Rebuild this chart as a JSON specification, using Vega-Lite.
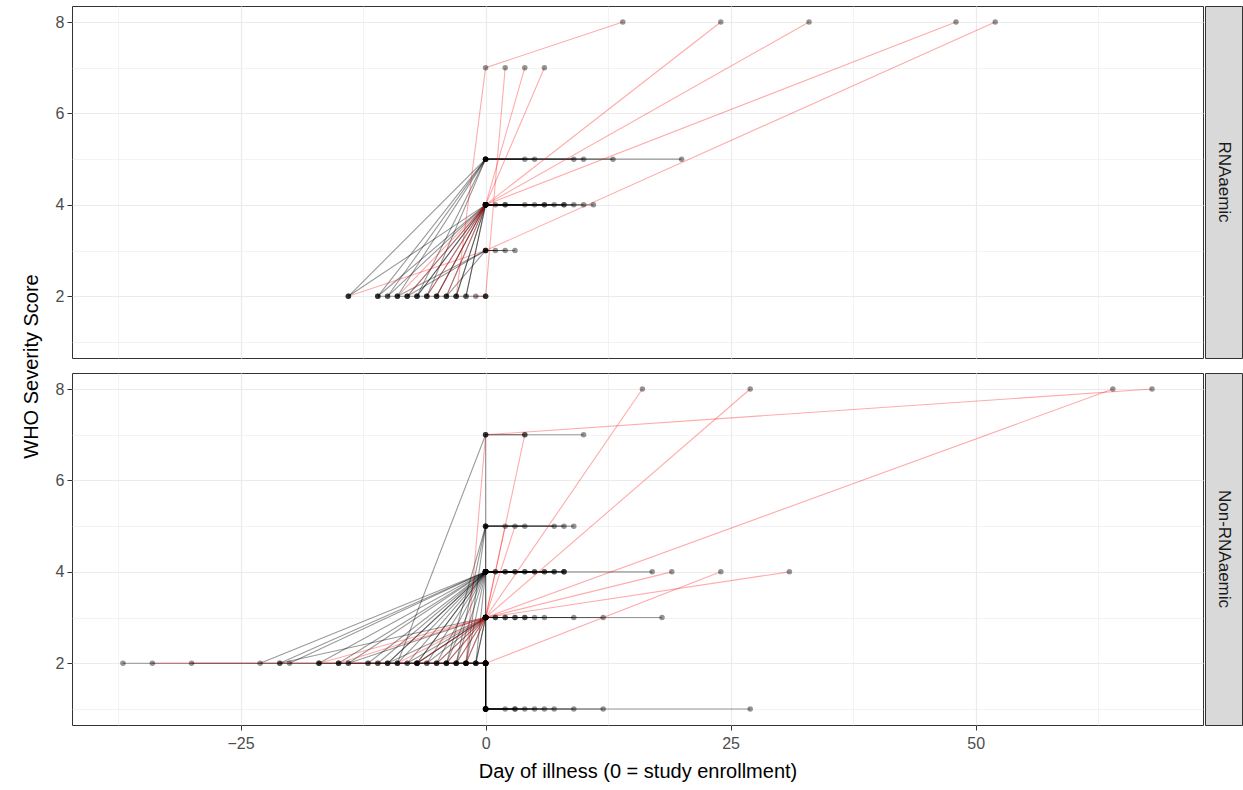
{
"$schema": "https://vega.github.io/schema/vega-lite/v6.json",
"padding": {"left": 20, "top": 5, "right": 0, "bottom": 5},
"background": "white",
"datasets": {
"pts": [
{"g":"RNAaemic","id":"T1","s":1,"d":-14,"y":2,"w":"no"},{"g":"RNAaemic","id":"T1","s":2,"d":0,"y":5,"w":"no"},{"g":"RNAaemic","id":"T1","s":3,"d":20,"y":5,"w":"no"},
{"g":"RNAaemic","id":"T2","s":1,"d":-11,"y":2,"w":"no"},{"g":"RNAaemic","id":"T2","s":2,"d":0,"y":5,"w":"no"},{"g":"RNAaemic","id":"T2","s":3,"d":13,"y":5,"w":"no"},
{"g":"RNAaemic","id":"T3","s":1,"d":-10,"y":2,"w":"no"},{"g":"RNAaemic","id":"T3","s":2,"d":0,"y":5,"w":"no"},{"g":"RNAaemic","id":"T3","s":3,"d":10,"y":5,"w":"no"},
{"g":"RNAaemic","id":"T4","s":1,"d":-9,"y":2,"w":"no"},{"g":"RNAaemic","id":"T4","s":2,"d":0,"y":5,"w":"no"},{"g":"RNAaemic","id":"T4","s":3,"d":9,"y":5,"w":"no"},
{"g":"RNAaemic","id":"T5","s":1,"d":-7,"y":2,"w":"no"},{"g":"RNAaemic","id":"T5","s":2,"d":0,"y":5,"w":"no"},{"g":"RNAaemic","id":"T5","s":3,"d":5,"y":5,"w":"no"},
{"g":"RNAaemic","id":"T6","s":1,"d":-6,"y":2,"w":"no"},{"g":"RNAaemic","id":"T6","s":2,"d":0,"y":5,"w":"no"},{"g":"RNAaemic","id":"T6","s":3,"d":4,"y":5,"w":"no"},
{"g":"RNAaemic","id":"T7","s":1,"d":-8,"y":2,"w":"no"},{"g":"RNAaemic","id":"T7","s":2,"d":0,"y":4,"w":"no"},{"g":"RNAaemic","id":"T7","s":3,"d":11,"y":4,"w":"no"},
{"g":"RNAaemic","id":"T8","s":1,"d":-7,"y":2,"w":"no"},{"g":"RNAaemic","id":"T8","s":2,"d":0,"y":4,"w":"no"},{"g":"RNAaemic","id":"T8","s":3,"d":10,"y":4,"w":"no"},
{"g":"RNAaemic","id":"T9","s":1,"d":-5,"y":2,"w":"no"},{"g":"RNAaemic","id":"T9","s":2,"d":0,"y":4,"w":"no"},{"g":"RNAaemic","id":"T9","s":3,"d":9,"y":4,"w":"no"},
{"g":"RNAaemic","id":"T10","s":1,"d":-4,"y":2,"w":"no"},{"g":"RNAaemic","id":"T10","s":2,"d":0,"y":4,"w":"no"},{"g":"RNAaemic","id":"T10","s":3,"d":8,"y":4,"w":"no"},
{"g":"RNAaemic","id":"T11","s":1,"d":-3,"y":2,"w":"no"},{"g":"RNAaemic","id":"T11","s":2,"d":0,"y":4,"w":"no"},{"g":"RNAaemic","id":"T11","s":3,"d":8,"y":4,"w":"no"},
{"g":"RNAaemic","id":"T12","s":1,"d":-2,"y":2,"w":"no"},{"g":"RNAaemic","id":"T12","s":2,"d":0,"y":4,"w":"no"},{"g":"RNAaemic","id":"T12","s":3,"d":7,"y":4,"w":"no"},
{"g":"RNAaemic","id":"T13","s":1,"d":-7,"y":2,"w":"no"},{"g":"RNAaemic","id":"T13","s":2,"d":0,"y":4,"w":"no"},{"g":"RNAaemic","id":"T13","s":3,"d":6,"y":4,"w":"no"},
{"g":"RNAaemic","id":"T14","s":1,"d":-6,"y":2,"w":"no"},{"g":"RNAaemic","id":"T14","s":2,"d":0,"y":4,"w":"no"},{"g":"RNAaemic","id":"T14","s":3,"d":6,"y":4,"w":"no"},
{"g":"RNAaemic","id":"T15","s":1,"d":-5,"y":2,"w":"no"},{"g":"RNAaemic","id":"T15","s":2,"d":0,"y":4,"w":"no"},{"g":"RNAaemic","id":"T15","s":3,"d":5,"y":4,"w":"no"},
{"g":"RNAaemic","id":"T16","s":1,"d":-3,"y":2,"w":"no"},{"g":"RNAaemic","id":"T16","s":2,"d":0,"y":4,"w":"no"},{"g":"RNAaemic","id":"T16","s":3,"d":4,"y":4,"w":"no"},
{"g":"RNAaemic","id":"T17","s":1,"d":-2,"y":2,"w":"no"},{"g":"RNAaemic","id":"T17","s":2,"d":0,"y":4,"w":"no"},{"g":"RNAaemic","id":"T17","s":3,"d":2,"y":4,"w":"no"},
{"g":"RNAaemic","id":"T18","s":1,"d":-11,"y":2,"w":"no"},{"g":"RNAaemic","id":"T18","s":2,"d":0,"y":4,"w":"no"},{"g":"RNAaemic","id":"T18","s":3,"d":2,"y":4,"w":"no"},
{"g":"RNAaemic","id":"T19","s":1,"d":-10,"y":2,"w":"no"},{"g":"RNAaemic","id":"T19","s":2,"d":0,"y":4,"w":"no"},{"g":"RNAaemic","id":"T19","s":3,"d":1,"y":4,"w":"no"},
{"g":"RNAaemic","id":"T20","s":1,"d":-14,"y":2,"w":"no"},{"g":"RNAaemic","id":"T20","s":2,"d":0,"y":4,"w":"no"},{"g":"RNAaemic","id":"T20","s":3,"d":0,"y":4,"w":"no"},
{"g":"RNAaemic","id":"T21","s":1,"d":-9,"y":2,"w":"no"},{"g":"RNAaemic","id":"T21","s":2,"d":0,"y":3,"w":"no"},{"g":"RNAaemic","id":"T21","s":3,"d":3,"y":3,"w":"no"},
{"g":"RNAaemic","id":"T22","s":1,"d":-8,"y":2,"w":"no"},{"g":"RNAaemic","id":"T22","s":2,"d":0,"y":3,"w":"no"},{"g":"RNAaemic","id":"T22","s":3,"d":2,"y":3,"w":"no"},
{"g":"RNAaemic","id":"T23","s":1,"d":-4,"y":2,"w":"no"},{"g":"RNAaemic","id":"T23","s":2,"d":0,"y":3,"w":"no"},{"g":"RNAaemic","id":"T23","s":3,"d":1,"y":3,"w":"no"},
{"g":"RNAaemic","id":"T24","s":1,"d":-11,"y":2,"w":"no"},{"g":"RNAaemic","id":"T24","s":2,"d":0,"y":2,"w":"no"},{"g":"RNAaemic","id":"T24","s":3,"d":0,"y":2,"w":"no"},
{"g":"RNAaemic","id":"TR1","s":1,"d":-3,"y":2,"w":"yes"},{"g":"RNAaemic","id":"TR1","s":2,"d":0,"y":7,"w":"yes"},{"g":"RNAaemic","id":"TR1","s":3,"d":14,"y":8,"w":"yes"},
{"g":"RNAaemic","id":"TR2","s":1,"d":-6,"y":2,"w":"yes"},{"g":"RNAaemic","id":"TR2","s":2,"d":0,"y":4,"w":"yes"},{"g":"RNAaemic","id":"TR2","s":3,"d":24,"y":8,"w":"yes"},
{"g":"RNAaemic","id":"TR3","s":1,"d":-8,"y":2,"w":"yes"},{"g":"RNAaemic","id":"TR3","s":2,"d":0,"y":4,"w":"yes"},{"g":"RNAaemic","id":"TR3","s":3,"d":33,"y":8,"w":"yes"},
{"g":"RNAaemic","id":"TR4","s":1,"d":-5,"y":2,"w":"yes"},{"g":"RNAaemic","id":"TR4","s":2,"d":0,"y":4,"w":"yes"},{"g":"RNAaemic","id":"TR4","s":3,"d":48,"y":8,"w":"yes"},
{"g":"RNAaemic","id":"TR5","s":1,"d":-14,"y":2,"w":"yes"},{"g":"RNAaemic","id":"TR5","s":2,"d":0,"y":3,"w":"yes"},{"g":"RNAaemic","id":"TR5","s":3,"d":52,"y":8,"w":"yes"},
{"g":"RNAaemic","id":"TR6","s":1,"d":-1,"y":2,"w":"yes"},{"g":"RNAaemic","id":"TR6","s":2,"d":0,"y":2,"w":"yes"},{"g":"RNAaemic","id":"TR6","s":3,"d":2,"y":7,"w":"yes"},
{"g":"RNAaemic","id":"TR7","s":1,"d":-4,"y":2,"w":"yes"},{"g":"RNAaemic","id":"TR7","s":2,"d":0,"y":4,"w":"yes"},{"g":"RNAaemic","id":"TR7","s":3,"d":4,"y":7,"w":"yes"},
{"g":"RNAaemic","id":"TR8","s":1,"d":-9,"y":2,"w":"yes"},{"g":"RNAaemic","id":"TR8","s":2,"d":0,"y":4,"w":"yes"},{"g":"RNAaemic","id":"TR8","s":3,"d":6,"y":7,"w":"yes"},
{"g":"Non-RNAaemic","id":"B1","s":1,"d":-9,"y":2,"w":"no"},{"g":"Non-RNAaemic","id":"B1","s":2,"d":0,"y":7,"w":"no"},{"g":"Non-RNAaemic","id":"B1","s":3,"d":10,"y":7,"w":"no"},
{"g":"Non-RNAaemic","id":"B2","s":1,"d":0,"y":2,"w":"no"},{"g":"Non-RNAaemic","id":"B2","s":2,"d":0,"y":7,"w":"no"},{"g":"Non-RNAaemic","id":"B2","s":3,"d":4,"y":7,"w":"no"},
{"g":"Non-RNAaemic","id":"B3","s":1,"d":-4,"y":2,"w":"no"},{"g":"Non-RNAaemic","id":"B3","s":2,"d":0,"y":5,"w":"no"},{"g":"Non-RNAaemic","id":"B3","s":3,"d":9,"y":5,"w":"no"},
{"g":"Non-RNAaemic","id":"B4","s":1,"d":-3,"y":2,"w":"no"},{"g":"Non-RNAaemic","id":"B4","s":2,"d":0,"y":5,"w":"no"},{"g":"Non-RNAaemic","id":"B4","s":3,"d":8,"y":5,"w":"no"},
{"g":"Non-RNAaemic","id":"B5","s":1,"d":0,"y":2,"w":"no"},{"g":"Non-RNAaemic","id":"B5","s":2,"d":0,"y":5,"w":"no"},{"g":"Non-RNAaemic","id":"B5","s":3,"d":7,"y":5,"w":"no"},
{"g":"Non-RNAaemic","id":"B6","s":1,"d":-2,"y":2,"w":"no"},{"g":"Non-RNAaemic","id":"B6","s":2,"d":0,"y":5,"w":"no"},{"g":"Non-RNAaemic","id":"B6","s":3,"d":4,"y":5,"w":"no"},
{"g":"Non-RNAaemic","id":"B7","s":1,"d":-21,"y":2,"w":"no"},{"g":"Non-RNAaemic","id":"B7","s":2,"d":0,"y":4,"w":"no"},{"g":"Non-RNAaemic","id":"B7","s":3,"d":17,"y":4,"w":"no"},
{"g":"Non-RNAaemic","id":"B8","s":1,"d":-20,"y":2,"w":"no"},{"g":"Non-RNAaemic","id":"B8","s":2,"d":0,"y":4,"w":"no"},{"g":"Non-RNAaemic","id":"B8","s":3,"d":8,"y":4,"w":"no"},
{"g":"Non-RNAaemic","id":"B9","s":1,"d":-23,"y":2,"w":"no"},{"g":"Non-RNAaemic","id":"B9","s":2,"d":0,"y":4,"w":"no"},{"g":"Non-RNAaemic","id":"B9","s":3,"d":8,"y":4,"w":"no"},
{"g":"Non-RNAaemic","id":"B10","s":1,"d":-17,"y":2,"w":"no"},{"g":"Non-RNAaemic","id":"B10","s":2,"d":0,"y":4,"w":"no"},{"g":"Non-RNAaemic","id":"B10","s":3,"d":7,"y":4,"w":"no"},
{"g":"Non-RNAaemic","id":"B11","s":1,"d":-15,"y":2,"w":"no"},{"g":"Non-RNAaemic","id":"B11","s":2,"d":0,"y":4,"w":"no"},{"g":"Non-RNAaemic","id":"B11","s":3,"d":7,"y":4,"w":"no"},
{"g":"Non-RNAaemic","id":"B12","s":1,"d":-14,"y":2,"w":"no"},{"g":"Non-RNAaemic","id":"B12","s":2,"d":0,"y":4,"w":"no"},{"g":"Non-RNAaemic","id":"B12","s":3,"d":6,"y":4,"w":"no"},
{"g":"Non-RNAaemic","id":"B13","s":1,"d":-12,"y":2,"w":"no"},{"g":"Non-RNAaemic","id":"B13","s":2,"d":0,"y":4,"w":"no"},{"g":"Non-RNAaemic","id":"B13","s":3,"d":6,"y":4,"w":"no"},
{"g":"Non-RNAaemic","id":"B14","s":1,"d":-11,"y":2,"w":"no"},{"g":"Non-RNAaemic","id":"B14","s":2,"d":0,"y":4,"w":"no"},{"g":"Non-RNAaemic","id":"B14","s":3,"d":5,"y":4,"w":"no"},
{"g":"Non-RNAaemic","id":"B15","s":1,"d":-10,"y":2,"w":"no"},{"g":"Non-RNAaemic","id":"B15","s":2,"d":0,"y":4,"w":"no"},{"g":"Non-RNAaemic","id":"B15","s":3,"d":5,"y":4,"w":"no"},
{"g":"Non-RNAaemic","id":"B16","s":1,"d":-10,"y":2,"w":"no"},{"g":"Non-RNAaemic","id":"B16","s":2,"d":0,"y":4,"w":"no"},{"g":"Non-RNAaemic","id":"B16","s":3,"d":4,"y":4,"w":"no"},
{"g":"Non-RNAaemic","id":"B17","s":1,"d":-9,"y":2,"w":"no"},{"g":"Non-RNAaemic","id":"B17","s":2,"d":0,"y":4,"w":"no"},{"g":"Non-RNAaemic","id":"B17","s":3,"d":4,"y":4,"w":"no"},
{"g":"Non-RNAaemic","id":"B18","s":1,"d":-8,"y":2,"w":"no"},{"g":"Non-RNAaemic","id":"B18","s":2,"d":0,"y":4,"w":"no"},{"g":"Non-RNAaemic","id":"B18","s":3,"d":3,"y":4,"w":"no"},
{"g":"Non-RNAaemic","id":"B19","s":1,"d":-7,"y":2,"w":"no"},{"g":"Non-RNAaemic","id":"B19","s":2,"d":0,"y":4,"w":"no"},{"g":"Non-RNAaemic","id":"B19","s":3,"d":3,"y":4,"w":"no"},
{"g":"Non-RNAaemic","id":"B20","s":1,"d":-7,"y":2,"w":"no"},{"g":"Non-RNAaemic","id":"B20","s":2,"d":0,"y":4,"w":"no"},{"g":"Non-RNAaemic","id":"B20","s":3,"d":2,"y":4,"w":"no"},
{"g":"Non-RNAaemic","id":"B21","s":1,"d":-6,"y":2,"w":"no"},{"g":"Non-RNAaemic","id":"B21","s":2,"d":0,"y":4,"w":"no"},{"g":"Non-RNAaemic","id":"B21","s":3,"d":2,"y":4,"w":"no"},
{"g":"Non-RNAaemic","id":"B22","s":1,"d":-5,"y":2,"w":"no"},{"g":"Non-RNAaemic","id":"B22","s":2,"d":0,"y":4,"w":"no"},{"g":"Non-RNAaemic","id":"B22","s":3,"d":1,"y":4,"w":"no"},
{"g":"Non-RNAaemic","id":"B23","s":1,"d":-4,"y":2,"w":"no"},{"g":"Non-RNAaemic","id":"B23","s":2,"d":0,"y":4,"w":"no"},{"g":"Non-RNAaemic","id":"B23","s":3,"d":1,"y":4,"w":"no"},
{"g":"Non-RNAaemic","id":"B24","s":1,"d":-3,"y":2,"w":"no"},{"g":"Non-RNAaemic","id":"B24","s":2,"d":0,"y":4,"w":"no"},{"g":"Non-RNAaemic","id":"B24","s":3,"d":0,"y":4,"w":"no"},
{"g":"Non-RNAaemic","id":"B25","s":1,"d":-2,"y":2,"w":"no"},{"g":"Non-RNAaemic","id":"B25","s":2,"d":0,"y":4,"w":"no"},{"g":"Non-RNAaemic","id":"B25","s":3,"d":0,"y":4,"w":"no"},
{"g":"Non-RNAaemic","id":"B26","s":1,"d":-1,"y":2,"w":"no"},{"g":"Non-RNAaemic","id":"B26","s":2,"d":0,"y":4,"w":"no"},{"g":"Non-RNAaemic","id":"B26","s":3,"d":8,"y":4,"w":"no"},
{"g":"Non-RNAaemic","id":"B27","s":1,"d":-21,"y":2,"w":"no"},{"g":"Non-RNAaemic","id":"B27","s":2,"d":0,"y":3,"w":"no"},{"g":"Non-RNAaemic","id":"B27","s":3,"d":18,"y":3,"w":"no"},
{"g":"Non-RNAaemic","id":"B28","s":1,"d":-14,"y":2,"w":"no"},{"g":"Non-RNAaemic","id":"B28","s":2,"d":0,"y":3,"w":"no"},{"g":"Non-RNAaemic","id":"B28","s":3,"d":12,"y":3,"w":"no"},
{"g":"Non-RNAaemic","id":"B29","s":1,"d":-10,"y":2,"w":"no"},{"g":"Non-RNAaemic","id":"B29","s":2,"d":0,"y":3,"w":"no"},{"g":"Non-RNAaemic","id":"B29","s":3,"d":9,"y":3,"w":"no"},
{"g":"Non-RNAaemic","id":"B30","s":1,"d":-8,"y":2,"w":"no"},{"g":"Non-RNAaemic","id":"B30","s":2,"d":0,"y":3,"w":"no"},{"g":"Non-RNAaemic","id":"B30","s":3,"d":6,"y":3,"w":"no"},
{"g":"Non-RNAaemic","id":"B31","s":1,"d":-7,"y":2,"w":"no"},{"g":"Non-RNAaemic","id":"B31","s":2,"d":0,"y":3,"w":"no"},{"g":"Non-RNAaemic","id":"B31","s":3,"d":5,"y":3,"w":"no"},
{"g":"Non-RNAaemic","id":"B32","s":1,"d":-6,"y":2,"w":"no"},{"g":"Non-RNAaemic","id":"B32","s":2,"d":0,"y":3,"w":"no"},{"g":"Non-RNAaemic","id":"B32","s":3,"d":4,"y":3,"w":"no"},
{"g":"Non-RNAaemic","id":"B33","s":1,"d":-5,"y":2,"w":"no"},{"g":"Non-RNAaemic","id":"B33","s":2,"d":0,"y":3,"w":"no"},{"g":"Non-RNAaemic","id":"B33","s":3,"d":4,"y":3,"w":"no"},
{"g":"Non-RNAaemic","id":"B34","s":1,"d":-4,"y":2,"w":"no"},{"g":"Non-RNAaemic","id":"B34","s":2,"d":0,"y":3,"w":"no"},{"g":"Non-RNAaemic","id":"B34","s":3,"d":3,"y":3,"w":"no"},
{"g":"Non-RNAaemic","id":"B35","s":1,"d":-3,"y":2,"w":"no"},{"g":"Non-RNAaemic","id":"B35","s":2,"d":0,"y":3,"w":"no"},{"g":"Non-RNAaemic","id":"B35","s":3,"d":3,"y":3,"w":"no"},
{"g":"Non-RNAaemic","id":"B36","s":1,"d":-2,"y":2,"w":"no"},{"g":"Non-RNAaemic","id":"B36","s":2,"d":0,"y":3,"w":"no"},{"g":"Non-RNAaemic","id":"B36","s":3,"d":2,"y":3,"w":"no"},
{"g":"Non-RNAaemic","id":"B37","s":1,"d":-1,"y":2,"w":"no"},{"g":"Non-RNAaemic","id":"B37","s":2,"d":0,"y":3,"w":"no"},{"g":"Non-RNAaemic","id":"B37","s":3,"d":2,"y":3,"w":"no"},
{"g":"Non-RNAaemic","id":"B38","s":1,"d":-7,"y":2,"w":"no"},{"g":"Non-RNAaemic","id":"B38","s":2,"d":0,"y":3,"w":"no"},{"g":"Non-RNAaemic","id":"B38","s":3,"d":1,"y":3,"w":"no"},
{"g":"Non-RNAaemic","id":"B39","s":1,"d":-1,"y":2,"w":"no"},{"g":"Non-RNAaemic","id":"B39","s":2,"d":0,"y":3,"w":"no"},{"g":"Non-RNAaemic","id":"B39","s":3,"d":1,"y":3,"w":"no"},
{"g":"Non-RNAaemic","id":"B40","s":1,"d":0,"y":2,"w":"no"},{"g":"Non-RNAaemic","id":"B40","s":2,"d":0,"y":3,"w":"no"},{"g":"Non-RNAaemic","id":"B40","s":3,"d":0,"y":3,"w":"no"},
{"g":"Non-RNAaemic","id":"B41","s":1,"d":-37,"y":2,"w":"no"},{"g":"Non-RNAaemic","id":"B41","s":2,"d":0,"y":2,"w":"no"},{"g":"Non-RNAaemic","id":"B41","s":3,"d":0,"y":1,"w":"no"},{"g":"Non-RNAaemic","id":"B41","s":4,"d":27,"y":1,"w":"no"},
{"g":"Non-RNAaemic","id":"B42","s":1,"d":-30,"y":2,"w":"no"},{"g":"Non-RNAaemic","id":"B42","s":2,"d":0,"y":2,"w":"no"},{"g":"Non-RNAaemic","id":"B42","s":3,"d":0,"y":1,"w":"no"},{"g":"Non-RNAaemic","id":"B42","s":4,"d":12,"y":1,"w":"no"},
{"g":"Non-RNAaemic","id":"B43","s":1,"d":-17,"y":2,"w":"no"},{"g":"Non-RNAaemic","id":"B43","s":2,"d":0,"y":2,"w":"no"},{"g":"Non-RNAaemic","id":"B43","s":3,"d":0,"y":1,"w":"no"},{"g":"Non-RNAaemic","id":"B43","s":4,"d":9,"y":1,"w":"no"},
{"g":"Non-RNAaemic","id":"B44","s":1,"d":-12,"y":2,"w":"no"},{"g":"Non-RNAaemic","id":"B44","s":2,"d":0,"y":2,"w":"no"},{"g":"Non-RNAaemic","id":"B44","s":3,"d":0,"y":1,"w":"no"},{"g":"Non-RNAaemic","id":"B44","s":4,"d":7,"y":1,"w":"no"},
{"g":"Non-RNAaemic","id":"B45","s":1,"d":-15,"y":2,"w":"no"},{"g":"Non-RNAaemic","id":"B45","s":2,"d":0,"y":2,"w":"no"},{"g":"Non-RNAaemic","id":"B45","s":3,"d":0,"y":1,"w":"no"},{"g":"Non-RNAaemic","id":"B45","s":4,"d":6,"y":1,"w":"no"},
{"g":"Non-RNAaemic","id":"B46","s":1,"d":-11,"y":2,"w":"no"},{"g":"Non-RNAaemic","id":"B46","s":2,"d":0,"y":2,"w":"no"},{"g":"Non-RNAaemic","id":"B46","s":3,"d":0,"y":1,"w":"no"},{"g":"Non-RNAaemic","id":"B46","s":4,"d":5,"y":1,"w":"no"},
{"g":"Non-RNAaemic","id":"B47","s":1,"d":0,"y":2,"w":"no"},{"g":"Non-RNAaemic","id":"B47","s":2,"d":0,"y":2,"w":"no"},{"g":"Non-RNAaemic","id":"B47","s":3,"d":0,"y":1,"w":"no"},{"g":"Non-RNAaemic","id":"B47","s":4,"d":4,"y":1,"w":"no"},
{"g":"Non-RNAaemic","id":"B48","s":1,"d":-1,"y":2,"w":"no"},{"g":"Non-RNAaemic","id":"B48","s":2,"d":0,"y":2,"w":"no"},{"g":"Non-RNAaemic","id":"B48","s":3,"d":0,"y":1,"w":"no"},{"g":"Non-RNAaemic","id":"B48","s":4,"d":3,"y":1,"w":"no"},
{"g":"Non-RNAaemic","id":"B49","s":1,"d":0,"y":2,"w":"no"},{"g":"Non-RNAaemic","id":"B49","s":2,"d":0,"y":2,"w":"no"},{"g":"Non-RNAaemic","id":"B49","s":3,"d":0,"y":1,"w":"no"},{"g":"Non-RNAaemic","id":"B49","s":4,"d":3,"y":1,"w":"no"},
{"g":"Non-RNAaemic","id":"B50","s":1,"d":-2,"y":2,"w":"no"},{"g":"Non-RNAaemic","id":"B50","s":2,"d":0,"y":2,"w":"no"},{"g":"Non-RNAaemic","id":"B50","s":3,"d":0,"y":1,"w":"no"},{"g":"Non-RNAaemic","id":"B50","s":4,"d":2,"y":1,"w":"no"},
{"g":"Non-RNAaemic","id":"B51","s":1,"d":0,"y":2,"w":"no"},{"g":"Non-RNAaemic","id":"B51","s":2,"d":0,"y":2,"w":"no"},{"g":"Non-RNAaemic","id":"B51","s":3,"d":0,"y":1,"w":"no"},{"g":"Non-RNAaemic","id":"B51","s":4,"d":0,"y":1,"w":"no"},
{"g":"Non-RNAaemic","id":"BR1","s":1,"d":-2,"y":2,"w":"yes"},{"g":"Non-RNAaemic","id":"BR1","s":2,"d":0,"y":7,"w":"yes"},{"g":"Non-RNAaemic","id":"BR1","s":3,"d":68,"y":8,"w":"yes"},
{"g":"Non-RNAaemic","id":"BR2","s":1,"d":-17,"y":2,"w":"yes"},{"g":"Non-RNAaemic","id":"BR2","s":2,"d":0,"y":3,"w":"yes"},{"g":"Non-RNAaemic","id":"BR2","s":3,"d":64,"y":8,"w":"yes"},
{"g":"Non-RNAaemic","id":"BR3","s":1,"d":-15,"y":2,"w":"yes"},{"g":"Non-RNAaemic","id":"BR3","s":2,"d":0,"y":3,"w":"yes"},{"g":"Non-RNAaemic","id":"BR3","s":3,"d":16,"y":8,"w":"yes"},
{"g":"Non-RNAaemic","id":"BR4","s":1,"d":-5,"y":2,"w":"yes"},{"g":"Non-RNAaemic","id":"BR4","s":2,"d":0,"y":3,"w":"yes"},{"g":"Non-RNAaemic","id":"BR4","s":3,"d":27,"y":8,"w":"yes"},
{"g":"Non-RNAaemic","id":"BR5","s":1,"d":-7,"y":2,"w":"yes"},{"g":"Non-RNAaemic","id":"BR5","s":2,"d":0,"y":3,"w":"yes"},{"g":"Non-RNAaemic","id":"BR5","s":3,"d":4,"y":7,"w":"yes"},
{"g":"Non-RNAaemic","id":"BR6","s":1,"d":-9,"y":2,"w":"yes"},{"g":"Non-RNAaemic","id":"BR6","s":2,"d":0,"y":3,"w":"yes"},{"g":"Non-RNAaemic","id":"BR6","s":3,"d":2,"y":5,"w":"yes"},
{"g":"Non-RNAaemic","id":"BR7","s":1,"d":-4,"y":2,"w":"yes"},{"g":"Non-RNAaemic","id":"BR7","s":2,"d":0,"y":3,"w":"yes"},{"g":"Non-RNAaemic","id":"BR7","s":3,"d":3,"y":5,"w":"yes"},
{"g":"Non-RNAaemic","id":"BR8","s":1,"d":-3,"y":2,"w":"yes"},{"g":"Non-RNAaemic","id":"BR8","s":2,"d":0,"y":3,"w":"yes"},{"g":"Non-RNAaemic","id":"BR8","s":3,"d":19,"y":4,"w":"yes"},
{"g":"Non-RNAaemic","id":"BR9","s":1,"d":-34,"y":2,"w":"yes"},{"g":"Non-RNAaemic","id":"BR9","s":2,"d":0,"y":2,"w":"yes"},{"g":"Non-RNAaemic","id":"BR9","s":3,"d":24,"y":4,"w":"yes"},
{"g":"Non-RNAaemic","id":"BR10","s":1,"d":-2,"y":2,"w":"yes"},{"g":"Non-RNAaemic","id":"BR10","s":2,"d":0,"y":3,"w":"yes"},{"g":"Non-RNAaemic","id":"BR10","s":3,"d":31,"y":4,"w":"yes"}
]
},
"bounds": "flush",
"columns": 2,
"spacing": {"row": 15, "column": 2},
"concat": [
  {
   "width": 1131, "height": 352,
   "data": {"name": "pts"},
   "transform": [{"filter": "datum.g === 'RNAaemic'"}],
   "encoding": {
    "x": {"field": "d", "type": "quantitative", "scale": {"domain": [-42.2, 73.2], "nice": false, "zero": false},
          "axis": {"values": [-37.5, -25, -12.5, 0, 12.5, 25, 37.5, 50, 62.5], "labels": false, "ticks": false, "title": null,
                   "gridWidth": {"condition": {"test": "datum.value % 25 == 0", "value": 1.2}, "value": 0.6}}},
    "y": {"field": "y", "type": "quantitative", "scale": {"domain": [0.65, 8.35], "nice": false, "zero": false},
          "axis": {"values": [1, 2, 3, 4, 5, 6, 7, 8], "labelExpr": "datum.value % 2 == 0 ? datum.label : ''",
                   "tickOpacity": {"condition": {"test": "datum.value % 2 == 0", "value": 1}, "value": 0},
                   "gridWidth": {"condition": {"test": "datum.value % 2 == 0", "value": 1.2}, "value": 0.6},
                   "title": "WHO Severity Score", "titleY": 360, "titlePadding": 14}}
   },
   "layer": [
    {"transform": [{"filter": "datum.w === 'no'"}], "mark": {"type": "line", "color": "#000000", "opacity": 0.4, "strokeWidth": 1.1},
     "encoding": {"detail": {"field": "id"}, "order": {"field": "s"}}},
    {"transform": [{"filter": "datum.w === 'yes'"}], "mark": {"type": "line", "color": "#ff0000", "opacity": 0.33, "strokeWidth": 1.1},
     "encoding": {"detail": {"field": "id"}, "order": {"field": "s"}}},
    {"mark": {"type": "point", "filled": true, "size": 30, "color": "#000000", "opacity": 0.42, "strokeWidth": 0}}
   ]
  },
  {
   "width": 37, "height": 352,
   "view": {"fill": "#d9d9d9", "stroke": "#333333"},
   "data": {"values": [{"g": "RNAaemic"}]},
   "mark": {"type": "text", "angle": 90, "fontSize": 17, "color": "#1a1a1a", "font": "Liberation Sans"},
   "encoding": {"text": {"field": "g"}}
  },
  {
   "width": 1131, "height": 352,
   "data": {"name": "pts"},
   "transform": [{"filter": "datum.g === 'Non-RNAaemic'"}],
   "encoding": {
    "x": {"field": "d", "type": "quantitative", "scale": {"domain": [-42.2, 73.2], "nice": false, "zero": false},
          "axis": {"values": [-37.5, -25, -12.5, 0, 12.5, 25, 37.5, 50, 62.5], "labelExpr": "datum.value % 25 == 0 ? datum.label : ''",
                   "tickOpacity": {"condition": {"test": "datum.value % 25 == 0", "value": 1}, "value": 0},
                   "gridWidth": {"condition": {"test": "datum.value % 25 == 0", "value": 1.2}, "value": 0.6},
                   "labelPadding": 5,
                   "title": "Day of illness (0 = study enrollment)", "titlePadding": 10}},
    "y": {"field": "y", "type": "quantitative", "scale": {"domain": [0.65, 8.35], "nice": false, "zero": false},
          "axis": {"values": [1, 2, 3, 4, 5, 6, 7, 8], "labelExpr": "datum.value % 2 == 0 ? datum.label : ''",
                   "tickOpacity": {"condition": {"test": "datum.value % 2 == 0", "value": 1}, "value": 0},
                   "gridWidth": {"condition": {"test": "datum.value % 2 == 0", "value": 1.2}, "value": 0.6},
                   "title": null}}
   },
   "layer": [
    {"transform": [{"filter": "datum.w === 'no'"}], "mark": {"type": "line", "color": "#000000", "opacity": 0.4, "strokeWidth": 1.1},
     "encoding": {"detail": {"field": "id"}, "order": {"field": "s"}}},
    {"transform": [{"filter": "datum.w === 'yes'"}], "mark": {"type": "line", "color": "#ff0000", "opacity": 0.33, "strokeWidth": 1.1},
     "encoding": {"detail": {"field": "id"}, "order": {"field": "s"}}},
    {"mark": {"type": "point", "filled": true, "size": 30, "color": "#000000", "opacity": 0.42, "strokeWidth": 0}}
   ]
  },
  {
   "width": 37, "height": 352,
   "view": {"fill": "#d9d9d9", "stroke": "#333333"},
   "data": {"values": [{"g": "Non-RNAaemic"}]},
   "mark": {"type": "text", "angle": 90, "fontSize": 17, "color": "#1a1a1a", "font": "Liberation Sans"},
   "encoding": {"text": {"field": "g"}}
  }
],
"config": {
 "font": "Liberation Sans",
 "view": {"stroke": "#333333", "strokeWidth": 1},
 "axis": {"labelFont": "Liberation Sans", "labelFontSize": 16, "labelColor": "#4d4d4d", "labelPadding": 3,
          "titleFont": "Liberation Sans", "titleFontSize": 20, "titleFontWeight": "normal", "titleColor": "#000000",
          "gridColor": "#ebebeb", "tickColor": "#333333", "tickSize": 5, "tickWidth": 1, "domain": false}
}
}
